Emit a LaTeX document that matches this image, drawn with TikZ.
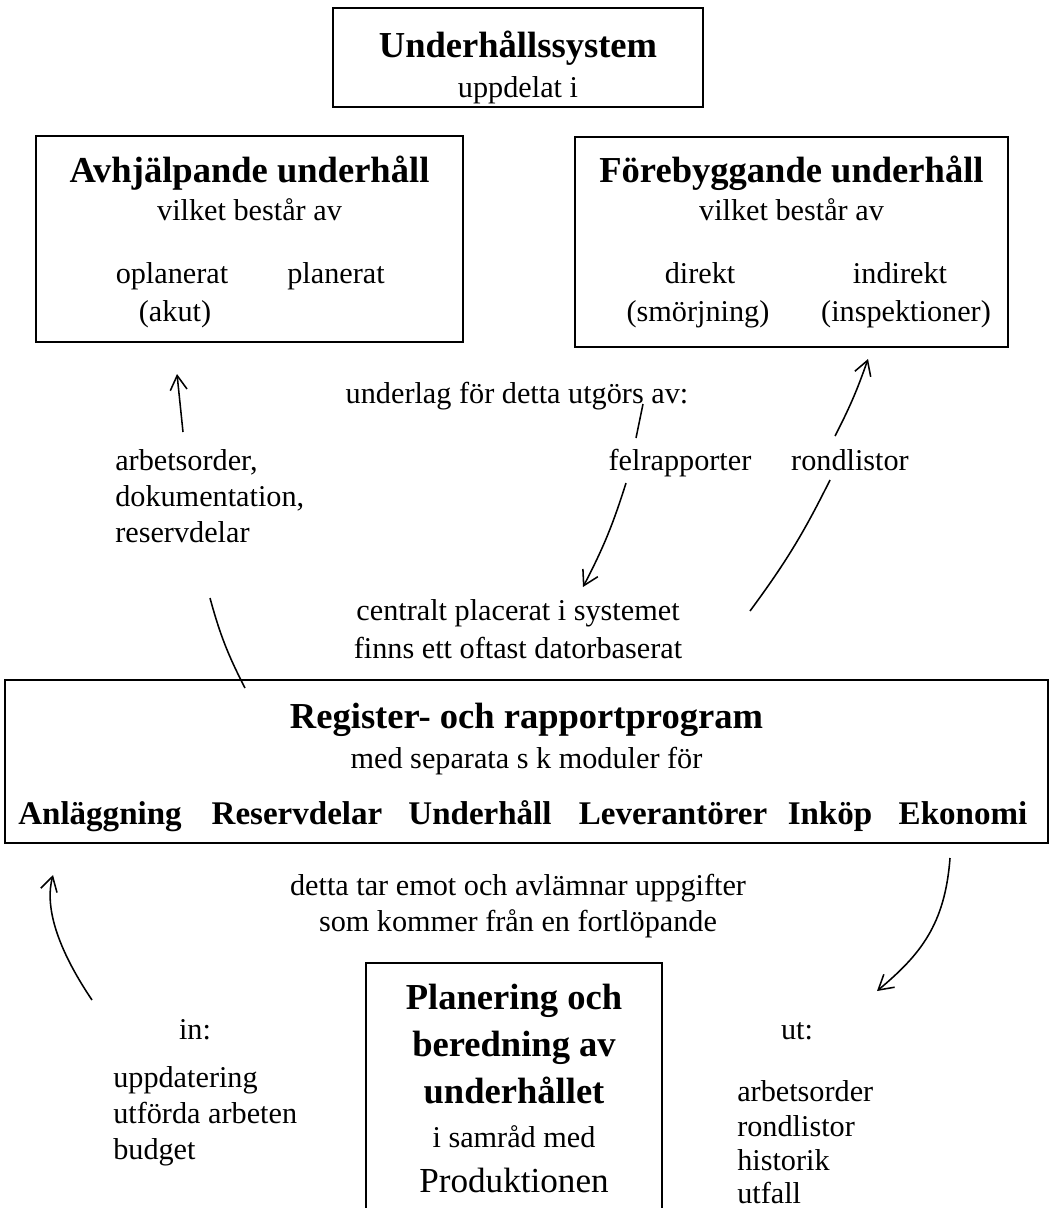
\documentclass[tikz,border=0pt]{standalone}
\usepackage{fontspec}
\setmainfont{Liberation Serif}
\usetikzlibrary{positioning, arrows.meta}

\begin{document}
\begin{tikzpicture}[
        x=0.025cm, y=-0.025cm,
        box/.style={draw, rectangle, line width=1.9pt, inner sep=0pt},
        head/.style={font=\fontsize{26}{30}\selectfont\bfseries, inner sep=0pt, anchor=base},
        mod/.style={font=\fontsize{23.5}{28}\selectfont\bfseries, inner sep=0pt, anchor=base},
        txt/.style={font=\fontsize{21.5}{25.5}\selectfont, inner sep=0pt, anchor=base},
        lst/.style={txt, anchor=base west},
        arr/.style={-{Straight Barb[length=3.6mm, width=4.2mm]}, line width=1.1pt},
        ln/.style={line width=1.1pt}
    ]
    \useasboundingbox (0,0) rectangle (1051,1208);

    % Underhallssystem
    \node[box, minimum width=370*0.025cm, minimum height=99*0.025cm] (sys) at (518,57.5) {};
    \node[head] (sysT) at (518,58) {Underhållssystem};
    \node[txt] (sysS) at (518,98) {uppdelat i};

    % Avhjalpande
    \node[box, minimum width=427*0.025cm, minimum height=206*0.025cm] (avh) at (249.5,239) {};
    \node[head] (avhT) at (249.5,183) {Avhjälpande underhåll};
    \node[txt] (avhS) at (249.5,221) {vilket består av};
    \node[txt] (opl) at (172,283) {oplanerat};
    \node[txt] (akut) at (175,321) {(akut)};
    \node[txt] (pla) at (336,283) {planerat};

    % Forebyggande
    \node[box, minimum width=433*0.025cm, minimum height=210*0.025cm] (fore) at (791.5,242) {};
    \node[head] (foreT) at (791.5,183) {Förebyggande underhåll};
    \node[txt] (foreS) at (791.5,221) {vilket består av};
    \node[txt] (dir) at (700,283) {direkt};
    \node[txt] (smo) at (698,321) {(smörjning)};
    \node[txt] (ind) at (900,283) {indirekt};
    \node[txt] (insp) at (906,321) {(inspektioner)};

    % mellan
    \node[txt] (unl) at (517,403) {underlag för detta utgörs av:};
    \node[lst] (ao1) at (115,470) {arbetsorder,};
    \node[lst] (ao2) at (115,506) {dokumentation,};
    \node[lst] (ao3) at (115,542) {reservdelar};
    \node[txt] (fel) at (680,470) {felrapporter};
    \node[txt] (ron) at (850,470) {rondlistor};
    \node[txt] (cen1) at (518,620) {centralt placerat i systemet};
    \node[txt] (cen2) at (518,658) {finns ett oftast datorbaserat};

    % Register
    \node[box, minimum width=1043*0.025cm, minimum height=163*0.025cm] (reg) at (526.5,761.5) {};
    \node[head] (regT) at (526.5,728) {Register- och rapportprogram};
    \node[txt] (regS) at (526.5,768) {med separata s k moduler för};
    \foreach \m/\x in {Anläggning/100, Reservdelar/297, Underhåll/480, Leverantörer/673, Inköp/830, Ekonomi/963}
        \node[mod] (mod\x) at (\x,824) {\m};

    \node[txt] (det1) at (518,895) {detta tar emot och avlämnar uppgifter};
    \node[txt] (det2) at (518,931) {som kommer från en fortlöpande};

    % Planering
    \node[box, minimum width=296*0.025cm, minimum height=246*0.025cm] (plan) at (514,1086) {};
    \node[head] (pl1) at (514,1009) {Planering och};
    \node[head] (pl2) at (514,1056) {beredning av};
    \node[head] (pl3) at (514,1103) {underhållet};
    \node[txt] (pl4) at (514,1147) {i samråd med};
    \node[txt, font=\fontsize{25}{30}\selectfont] (pl5) at (514,1192) {Produktionen};

    \node[txt] (in) at (195,1039) {in:};
    \node[txt] (ut) at (797,1039) {ut:};
    \node[lst] (in1) at (113,1087) {uppdatering};
    \node[lst] (in2) at (113,1123) {utförda arbeten};
    \node[lst] (in3) at (113,1159) {budget};
    \node[lst] (ut1) at (737,1101) {arbetsorder};
    \node[lst] (ut2) at (737,1136) {rondlistor};
    \node[lst] (ut3) at (737,1170) {historik};
    \node[lst] (ut4) at (737,1203) {utfall};

    % pilar
    \coordinate (p1a) at (183,432); \coordinate (p1b) at (177,374);
    \coordinate (p2a) at (210,598); \coordinate (p2b) at (245,688);
    \coordinate (p3a) at (643,404); \coordinate (p3b) at (636,438);
    \coordinate (p4a) at (626,483); \coordinate (p4b) at (583,587);
    \coordinate (p5a) at (835,436); \coordinate (p5b) at (868,359);
    \coordinate (p6a) at (830,480); \coordinate (p6b) at (750,611);
    \coordinate (p7a) at (92,1000); \coordinate (p7b) at (53,875);
    \coordinate (p8a) at (950,858); \coordinate (p8b) at (877,991);

    \draw[arr] (p1a) -- (p1b);
    \draw[ln] (p2a) to[bend right=6] (p2b);
    \draw[ln] (p3a) -- (p3b);
    \draw[arr] (p4a) to[bend left=5] (p4b);
    \draw[arr] (p5a) to[bend right=4] (p5b);
    \draw[ln] (p6a) to[bend left=5] (p6b);
    \draw[arr] (p7a) .. controls (55,945) and (45,905) .. (p7b);
    \draw[arr] (p8a) .. controls (945,925) and (920,955) .. (p8b);

\end{tikzpicture}
\end{document}
